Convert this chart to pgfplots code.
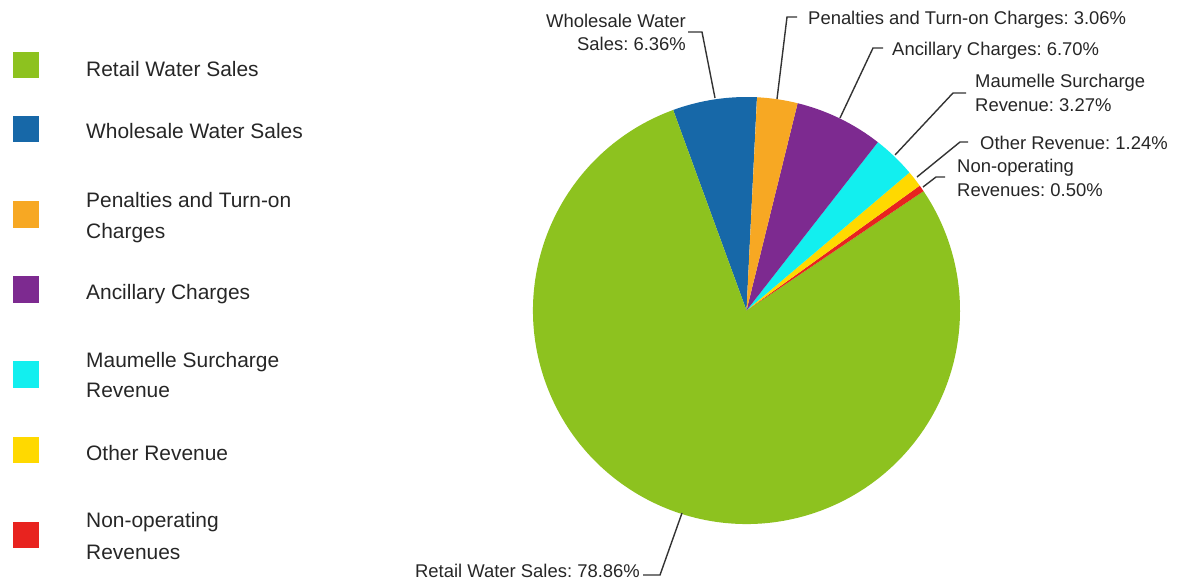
\documentclass[border=0pt]{standalone}
\usepackage{pgfplots}
\pgfplotsset{compat=1.18}
\usepackage{fontspec}
\setmainfont{Liberation Sans}
\frenchspacing
\definecolor{cRetail}{HTML}{8DC21F}
\definecolor{cWholesale}{HTML}{1768A8}
\definecolor{cPen}{HTML}{F7A823}
\definecolor{cAnc}{HTML}{7D2A90}
\definecolor{cMaum}{HTML}{12EFEF}
\definecolor{cOther}{HTML}{FFD900}
\definecolor{cNonop}{HTML}{E8231F}
\definecolor{txt}{HTML}{262626}
\definecolor{lead}{HTML}{333333}
\begin{document}
\begin{tikzpicture}
\begin{axis}[
  width=1178bp, height=582bp, scale only axis,
  xmin=0, xmax=1178, ymin=0, ymax=582,
  axis lines=none, ticks=none, clip=false,
]
\path (axis cs:0,0) rectangle (axis cs:1178,582);
% pie slices (percentages), counter-clockwise from the start angle
\gdef\cum{87.2}
\foreach \v/\c in {6.36/cWholesale, 78.86/cRetail, 0.50/cNonop, 1.24/cOther, 3.27/cMaum, 6.70/cAnc, 3.06/cPen} {
  \pgfmathsetmacro{\a}{\cum}
  \pgfmathsetmacro{\b}{\cum+3.6*\v}
  \edef\temp{\noexpand\fill[\c] (axis cs:746.5,271.5) -- ++(\a:213.5bp) arc[start angle=\a, end angle=\b, radius=213.5bp] -- cycle;}
  \temp
  \xdef\cum{\b}
}
% leader lines (y flipped: Y = 582 - y)
\begin{scope}[lead, line width=1.4bp]
\draw (axis cs:715,484) -- (axis cs:702,550) -- (axis cs:688,550);
\draw (axis cs:777,483) -- (axis cs:787,565) -- (axis cs:797,565);
\draw (axis cs:840,464) -- (axis cs:873,534) -- (axis cs:883,534);
\draw (axis cs:895,427) -- (axis cs:953,489) -- (axis cs:966,489);
\draw (axis cs:917,405) -- (axis cs:960,440) -- (axis cs:968,440);
\draw (axis cs:923,395) -- (axis cs:936,405) -- (axis cs:945,405);
\draw (axis cs:682,69) -- (axis cs:660,7) -- (axis cs:643,7);
\end{scope}
% slice labels
\begin{scope}[every node/.style={inner sep=0pt, text=txt, font=\fontsize{18.5}{22}\selectfont}]
\node[anchor=base east] at (axis cs:686,554) {Wholesale Water};
\node[anchor=base east] at (axis cs:686,531) {Sales: 6.36\%};
\node[anchor=base west] at (axis cs:808,557) {Penalties and Turn-on Charges: 3.06\%};
\node[anchor=base west] at (axis cs:892,526) {Ancillary Charges: 6.70\%};
\node[anchor=base west] at (axis cs:975,494) {Maumelle Surcharge};
\node[anchor=base west] at (axis cs:975,470) {Revenue: 3.27\%};
\node[anchor=base west] at (axis cs:980,432) {Other Revenue: 1.24\%};
\node[anchor=base west] at (axis cs:957,409) {Non-operating};
\node[anchor=base west] at (axis cs:957,385) {Revenues: 0.50\%};
\node[anchor=base east] at (axis cs:640,5) {Retail Water Sales: 78.86\%};
\end{scope}
% legend
\begin{scope}[every node/.style={inner sep=0pt, text=txt, font=\fontsize{21}{30}\selectfont}]
\fill[cRetail]    (axis cs:13,530) rectangle (axis cs:39,504);
\fill[cWholesale] (axis cs:13,466) rectangle (axis cs:39,440);
\fill[cPen]       (axis cs:13,381) rectangle (axis cs:39,354);
\fill[cAnc]       (axis cs:13,306) rectangle (axis cs:39,279);
\fill[cMaum]      (axis cs:13,221) rectangle (axis cs:39,194);
\fill[cOther]     (axis cs:13,145) rectangle (axis cs:39,119);
\fill[cNonop]     (axis cs:13,60)  rectangle (axis cs:39,34);
\node[anchor=base west] at (axis cs:86,505) {Retail Water Sales};
\node[anchor=base west] at (axis cs:86,443) {Wholesale Water Sales};
\node[anchor=base west] at (axis cs:86,374) {Penalties and Turn-on};
\node[anchor=base west] at (axis cs:86,343) {Charges};
\node[anchor=base west] at (axis cs:86,282) {Ancillary Charges};
\node[anchor=base west] at (axis cs:86,214) {Maumelle Surcharge};
\node[anchor=base west] at (axis cs:86,184) {Revenue};
\node[anchor=base west] at (axis cs:86,121) {Other Revenue};
\node[anchor=base west] at (axis cs:86,54)  {Non-operating};
\node[anchor=base west] at (axis cs:86,23)  {Revenues};
\end{scope}
\end{axis}
\end{tikzpicture}
\end{document}
